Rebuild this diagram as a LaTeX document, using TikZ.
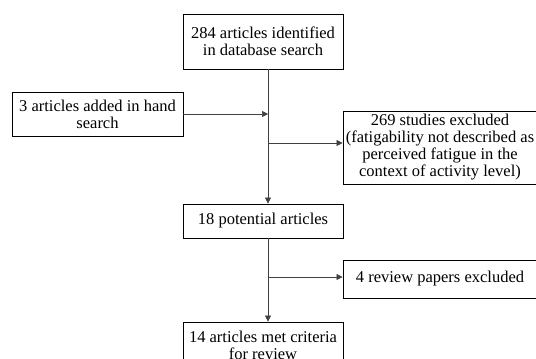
\documentclass[tikz,border=0pt]{standalone}
\usepackage{fontspec}
\setmainfont{Liberation Serif}
\usetikzlibrary{arrows.meta}
\tikzset{
    box/.style = {draw, thick, align = center, inner sep = 1pt, font = \fontsize{16.5}{17}\selectfont},
    arr/.style = {draw = black!75, semithick, -{Triangle[length = 6pt, width = 6pt]}}
}
\begin{document}
\begin{tikzpicture}[x = 1pt, y = -1pt]
        \useasboundingbox (0,0) rectangle (536,359);
        \clip (0,0) rectangle (536,359);
        \begin{scope}
            \node[box, minimum width = 160pt, minimum height = 55pt] (dbsearch) at (263,41.5) {284 articles identified\\in database search};
            \node[box, minimum width = 171pt, minimum height = 44pt] (handsearch) at (97.5,114) {3 articles added in hand\\search};
            \node[box, minimum width = 194pt, minimum height = 73pt] (fatigue) at (440,147.5) {269 studies excluded\\(fatigability not described as\\perceived fatigue in the\\context of activity level)};
            \node[box, minimum width = 194pt, minimum height = 38pt] (reviews) at (440,279) {4 review papers excluded};
            \node[box, minimum width = 160pt, minimum height = 34pt] (potential) at (263,221) {18 potential articles};
            \node[box, minimum width = 160pt, minimum height = 46pt] (included) at (263,345) {14 articles met criteria\\for review};
        \end{scope}
        \begin{scope}
            \coordinate (trunk) at (268,0);
            \coordinate (split1) at (268,143);
            \coordinate (split2) at (268,277);
            \draw[arr] (dbsearch.south -| trunk) -- (potential.north -| trunk);
            \draw[arr] (handsearch.east) -- (handsearch.east -| trunk);
            \draw[arr] (split1) -- (split1 -| fatigue.west);
            \draw[arr] (potential.south -| trunk) -- (included.north -| trunk);
            \draw[arr] (split2) -- (split2 -| reviews.west);
        \end{scope}
    \end{tikzpicture}
\end{document}
